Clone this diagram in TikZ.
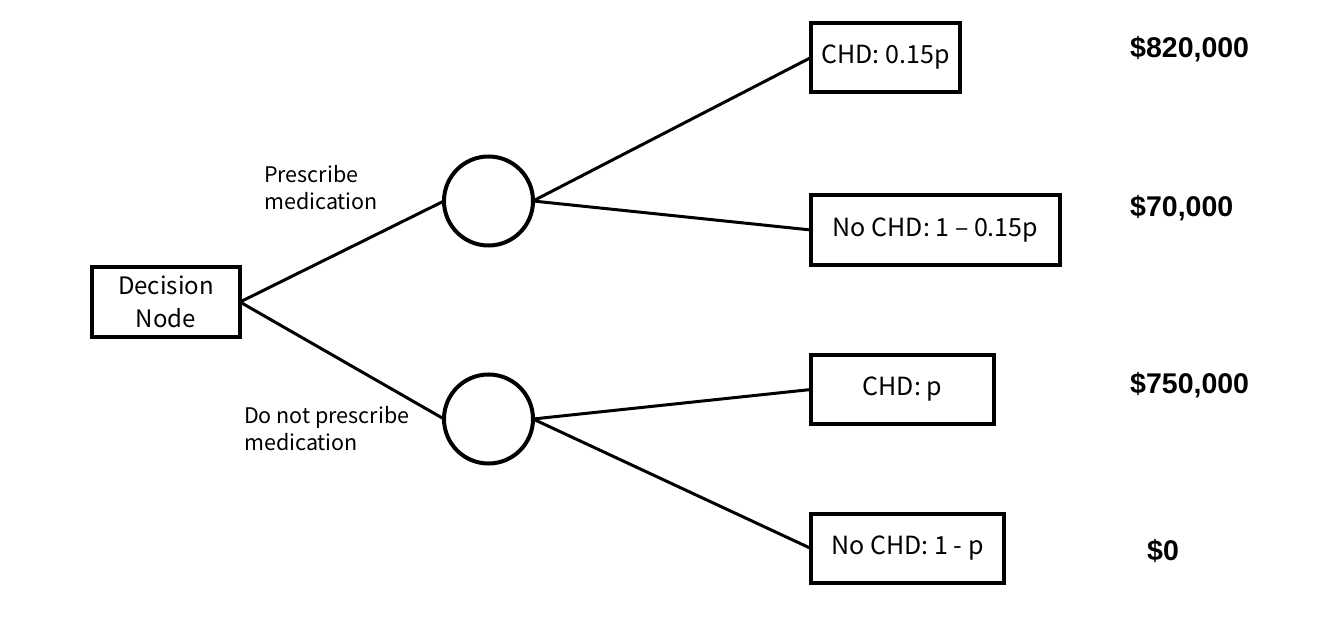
\documentclass[tikz,border=0pt]{standalone}
\usepackage{fontspec}
\newfontfamily\lblfont{Noto Sans CJK SC}
\newfontfamily\valfont{Liberation Sans}
\begin{document}
\begin{tikzpicture}[x=1pt,y=-1pt,
  box/.style={draw,line width=4pt,inner sep=0pt,outer sep=0pt,font=\lblfont\fontsize{25}{30}\selectfont},
  chance/.style={draw,circle,line width=4pt,minimum size=89pt,inner sep=0pt,outer sep=0pt},
  edge/.style={line width=3pt},
  branch/.style={anchor=base west,inner sep=0pt,font=\lblfont\fontsize{21.5}{27}\selectfont,align=left},
  val/.style={anchor=base west,inner sep=0pt,font=\valfont\bfseries\fontsize{28.5}{30}\selectfont}]
\useasboundingbox (0,0) rectangle (1324,628);
\node[box,minimum width=148pt,minimum height=70pt,align=center,font=\lblfont\fontsize{24}{33}\selectfont] (dec) at (166,302) {Decision\\Node};
\node[chance] (c1) at (488.5,201) {};
\node[chance] (c2) at (488.5,419) {};
\node[box,minimum width=149pt,minimum height=69pt] (b1) at (885.5,57.5) {CHD: 0.15p};
\node[box,minimum width=249pt,minimum height=70pt] (b2) at (935.5,230) {No CHD: 1 – 0.15p};
\node[box,minimum width=183pt,minimum height=69pt] (b3) at (902.5,389.5) {CHD: p};
\node[box,minimum width=193pt,minimum height=69pt] (b4) at (907.5,548.5) {No CHD: 1 - p};
\draw[edge] (dec.east) -- (c1.west);
\draw[edge] (dec.east) -- (c2.west);
\draw[edge] (c1.east) -- (b1.west);
\draw[edge] (c1.east) -- (b2.west);
\draw[edge] (c2.east) -- (b3.west);
\draw[edge] (c2.east) -- (b4.west);
\node[branch] (l1) at (264,210) {Prescribe\\medication};
\node[branch] (l2) at (244,450) {Do not prescribe\\medication};
\node[val] (v1) at (1130,58) {\$820,000};
\node[val] (v2) at (1130,217) {\$70,000};
\node[val] (v3) at (1130,393) {\$750,000};
\node[val] (v4) at (1147,560) {\$0};
\end{tikzpicture}
\end{document}
